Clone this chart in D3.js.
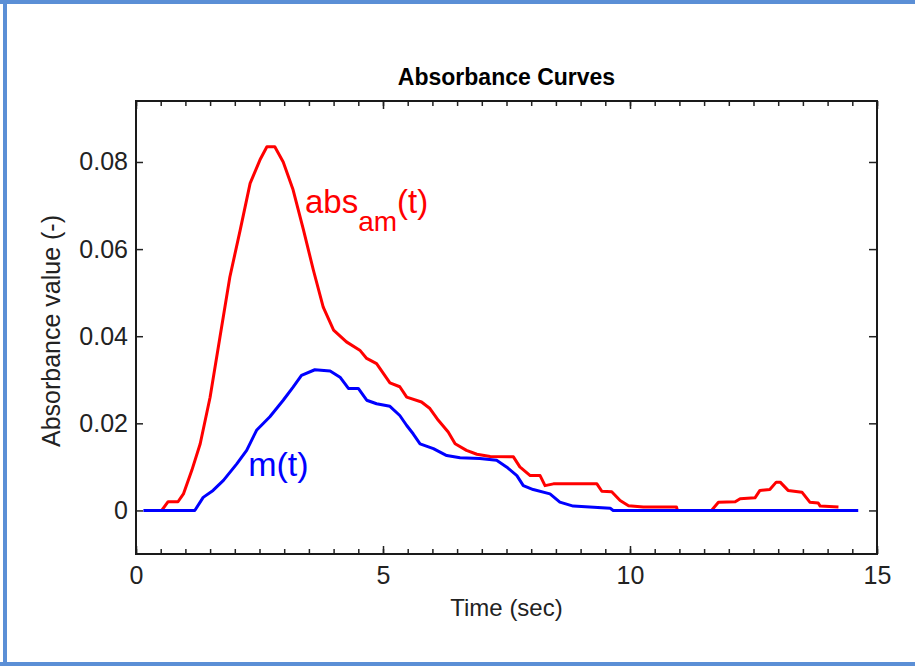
<!DOCTYPE html>
<html>
<head>
<meta charset="utf-8">
<script src="https://cdn.jsdelivr.net/npm/d3@7"></script>
<style>
  body { margin: 0; background: #fff; }
  text { font-family: "Liberation Sans", Arial, sans-serif; }
</style>
</head>
<body>
<div id="maViz"></div>
<script>
// Données (temps en sec, absorbance sans unité)
const tRouge = [0.52, 0.65, 0.85, 0.96, 1.13, 1.30, 1.50, 1.70, 1.90, 2.11, 2.31, 2.51, 2.65, 2.81, 2.98, 3.18, 3.39, 3.59, 3.79, 4.00,
                4.26, 4.53, 4.67, 4.87, 5.14, 5.34, 5.48, 5.78, 5.95, 6.12, 6.32, 6.46, 6.69, 6.90, 7.17, 7.64, 7.77, 7.98, 8.18, 8.28,
                8.45, 9.33, 9.43, 9.63, 9.80, 9.97, 10.27, 10.94, 10.96, 11.65, 11.79, 12.13, 12.23, 12.53, 12.63, 12.83, 12.96, 13.04,
                13.20, 13.48, 13.64, 13.81, 13.85, 14.22];
const vRouge = [0, 0.002, 0.002, 0.0038, 0.0092, 0.0153, 0.026, 0.0398, 0.0536, 0.0644, 0.0751, 0.0805, 0.0835, 0.0835, 0.080, 0.0736, 0.0644, 0.0552, 0.0467, 0.0414,
                0.0387, 0.0368, 0.0349, 0.0337, 0.0293, 0.0284, 0.026, 0.0249, 0.0234, 0.0207, 0.018, 0.0153, 0.0138, 0.0129, 0.0124, 0.0123, 0.010, 0.008, 0.008, 0.0057,
                0.0061, 0.0061, 0.0044, 0.0043, 0.0023, 0.0011, 0.0008, 0.0008, 0, 0, 0.0019, 0.002, 0.0027, 0.0029, 0.0046, 0.0048, 0.0065, 0.0065,
                0.0046, 0.0042, 0.0019, 0.0017, 0.001, 0.0008];

const tBleu = [0.15, 1.19, 1.36, 1.56, 1.77, 2.04, 2.24, 2.44, 2.71, 2.98, 3.18, 3.35, 3.62, 3.93, 4.13, 4.30, 4.50, 4.67, 4.87, 5.14,
               5.34, 5.48, 5.61, 5.75, 6.02, 6.29, 6.56, 6.96, 7.30, 7.50, 7.71, 7.84, 8.04, 8.38, 8.58, 8.85, 9.60, 9.66, 14.62];
const vBleu = [0, 0, 0.003, 0.0046, 0.0069, 0.0107, 0.0138, 0.0184, 0.0215, 0.0253, 0.0283, 0.031, 0.0323, 0.032, 0.0306, 0.028, 0.028, 0.0253, 0.0245, 0.0239,
               0.0218, 0.0195, 0.0176, 0.0153, 0.0142, 0.0126, 0.0121, 0.0119, 0.0115, 0.010, 0.008, 0.0057, 0.0048, 0.0038, 0.0019, 0.001, 0.0005, 0, 0];

const xTicks = [0, 5, 10, 15];
const xMinor = d3.range(0, 15.01, 0.5);
const yTicks = [0, 0.02, 0.04, 0.06, 0.08];
const yLabels = ["0", "0.02", "0.04", "0.06", "0.08"];

// position des étiquettes (en coordonnées des données)
const etiqAbs = {t: 3.42, v: 0.0683};
const etiqM = {t: 2.27, v: 0.008};

///////////////////////////////////////////////////////////////
// dimensions
const W = 915, H = 666;
const margin = {top: 101, right: 38, bottom: 112, left: 136};
const width = W - margin.left - margin.right;
const height = H - margin.top - margin.bottom;
const tickCol = '#222';

const svg = d3.select("#maViz").append("svg")
  .attr("width", W).attr("height", H);

// cadre bleu autour de l'image
svg.append("rect").attr("x", 0).attr("y", 0).attr("width", W).attr("height", 4).attr("fill", "#5b8fd6");
svg.append("rect").attr("x", 3).attr("y", 0).attr("width", 4).attr("height", H).attr("fill", "#5b8fd6");
svg.append("rect").attr("x", 0).attr("y", H - 4).attr("width", W).attr("height", 4).attr("fill", "#5b8fd6");

const g = svg.append("g").attr("transform", `translate(${margin.left},${margin.top})`);

const x = d3.scaleLinear().domain([0, 15]).range([0, width]);
const y = d3.scaleLinear().domain([-0.01, 0.094]).range([height, 0]);

// titre
svg.append("text")
  .attr("x", margin.left + width / 2).attr("y", 85)
  .attr("text-anchor", "middle")
  .style("font-size", "23px").style("font-weight", "bold")
  .text("Absorbance Curves");

///////////////////////////////////////////////////////////////
// courbes
const ligne = d3.line().x(d => x(d[0])).y(d => y(d[1]));

g.append("path")
  .datum(tRouge.map((t, i) => [t, vRouge[i]]))
  .attr("d", ligne)
  .attr("fill", "none").attr("stroke", "#ff0000").attr("stroke-width", 3)
  .attr("stroke-linejoin", "round");

g.append("path")
  .datum(tBleu.map((t, i) => [t, vBleu[i]]))
  .attr("d", ligne)
  .attr("fill", "none").attr("stroke", "#0000ff").attr("stroke-width", 3)
  .attr("stroke-linejoin", "round");

///////////////////////////////////////////////////////////////
// axes : graduations vers l'intérieur, en bas / haut / gauche / droite
const axeBas = g.append("g").attr("transform", `translate(0,${height})`)
  .call(d3.axisBottom(x).tickValues(xMinor).tickSize(-5).tickFormat(""));
const axeHaut = g.append("g")
  .call(d3.axisTop(x).tickValues(xMinor).tickSize(-5).tickFormat(""));
const axeBasMaj = g.append("g").attr("transform", `translate(0,${height})`)
  .call(d3.axisBottom(x).tickValues(xTicks).tickSize(-8).tickPadding(12).tickFormat(d3.format("d")));
const axeHautMaj = g.append("g")
  .call(d3.axisTop(x).tickValues(xTicks).tickSize(-8).tickFormat(""));
const axeGauche = g.append("g")
  .call(d3.axisLeft(y).tickValues(yTicks).tickSize(-7).tickPadding(8).tickFormat((d, i) => yLabels[i]));
const axeDroite = g.append("g").attr("transform", `translate(${width},0)`)
  .call(d3.axisRight(y).tickValues(yTicks).tickSize(-8).tickFormat(""));

[axeBas, axeHaut, axeBasMaj, axeHautMaj, axeGauche, axeDroite].forEach(a => {
  a.select(".domain").remove();
  a.selectAll("line").attr("stroke", tickCol).attr("stroke-width", 1.5);
  a.selectAll("text").attr("fill", "#222").style("font-size", "25px")
    .style("font-family", '"Liberation Sans", Arial, sans-serif');
});

// cadre noir
g.append("rect").attr("width", width).attr("height", height)
  .attr("fill", "none").attr("stroke", "#1a1a1a").attr("stroke-width", 2);

///////////////////////////////////////////////////////////////
// titres des axes
svg.append("text")
  .attr("x", margin.left + width / 2).attr("y", 616)
  .attr("text-anchor", "middle").attr("fill", "#222")
  .style("font-size", "24px")
  .text("Time (sec)");

svg.append("text")
  .attr("transform", `translate(60,${331}) rotate(-90)`)
  .attr("text-anchor", "middle").attr("fill", "#222")
  .style("font-size", "25px")
  .text("Absorbance value (-)");

///////////////////////////////////////////////////////////////
// étiquettes des courbes
const tAbs = g.append("text")
  .attr("x", x(etiqAbs.t)).attr("y", y(etiqAbs.v))
  .attr("fill", "#ff0000");
tAbs.append("tspan").style("font-size", "33px").text("abs");
tAbs.append("tspan").attr("dy", 18).style("font-size", "28px").text("am");
tAbs.append("tspan").attr("dy", -18).style("font-size", "33px").text("(t)");

g.append("text")
  .attr("x", x(etiqM.t)).attr("y", y(etiqM.v))
  .attr("fill", "#0000ff")
  .style("font-size", "34px")
  .text("m(t)");
</script>
</body>
</html>
